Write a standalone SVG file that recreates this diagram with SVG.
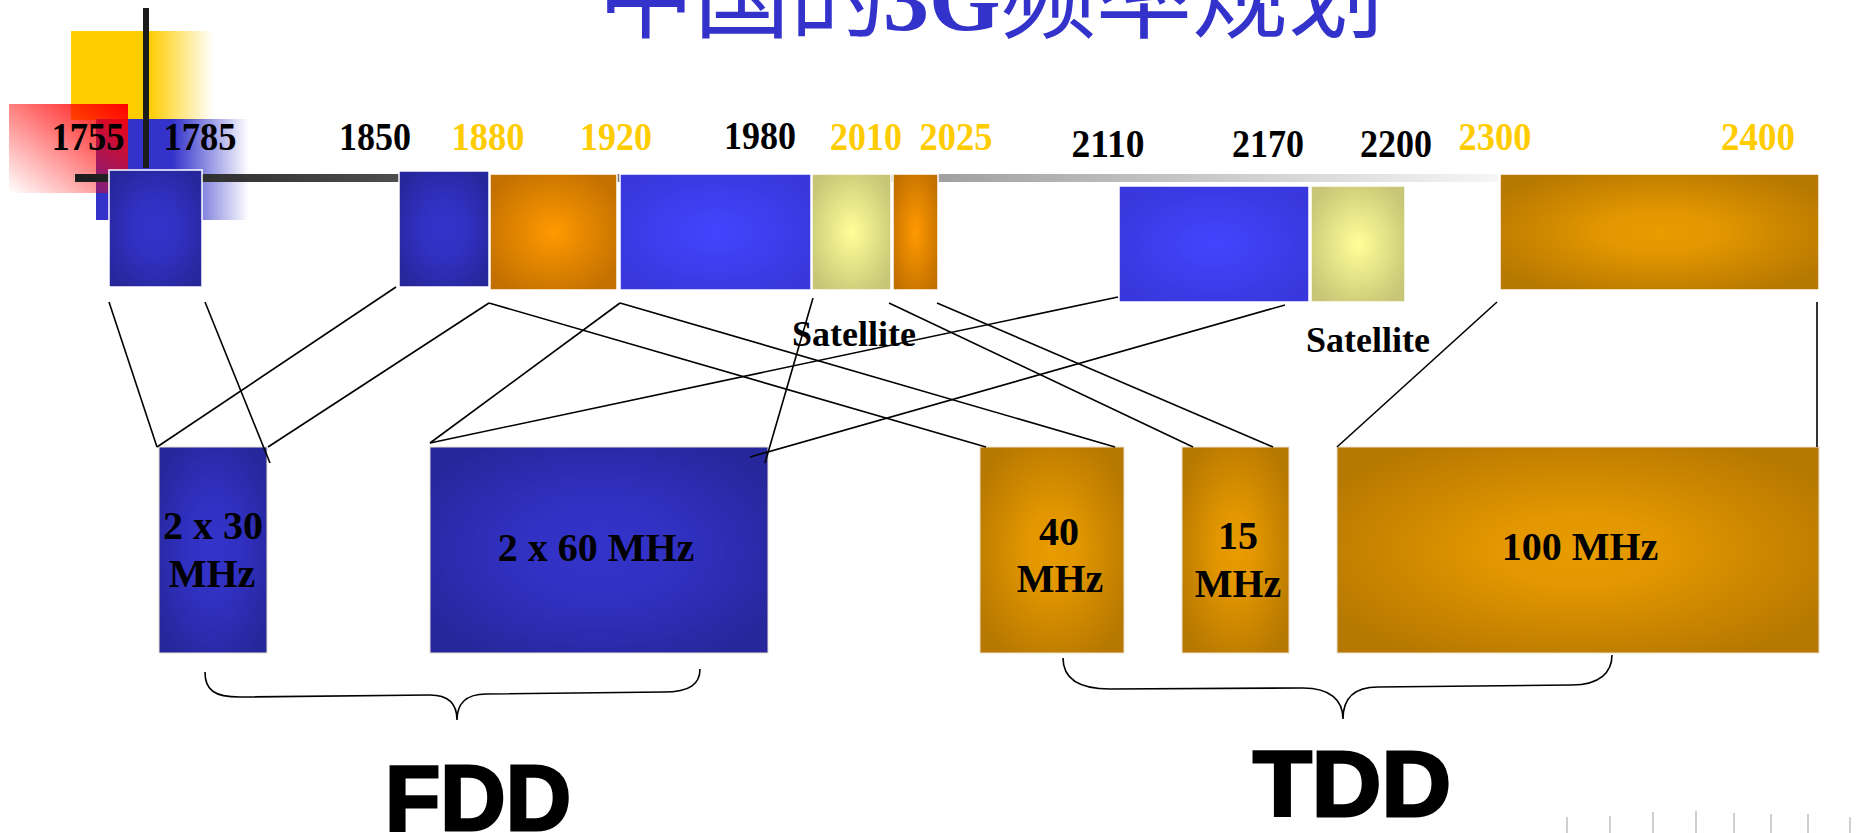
<svg xmlns="http://www.w3.org/2000/svg" width="1858" height="833" viewBox="0 0 1858 833">
<defs>
<radialGradient id="gDark" cx="50%" cy="50%" r="60%"><stop offset="0" stop-color="#3434cc"/><stop offset="0.45" stop-color="#3030c0"/><stop offset="1" stop-color="#27279c"/></radialGradient>
<radialGradient id="gBright" cx="50%" cy="50%" r="60%"><stop offset="0" stop-color="#4444ff"/><stop offset="1" stop-color="#3838dc"/></radialGradient>
<radialGradient id="gOrange" cx="50%" cy="50%" r="60%"><stop offset="0" stop-color="#ff9900"/><stop offset="1" stop-color="#c27000"/></radialGradient>
<radialGradient id="gGold" cx="50%" cy="50%" r="60%"><stop offset="0" stop-color="#e89c00"/><stop offset="0.3" stop-color="#e29600"/><stop offset="1" stop-color="#b67800"/></radialGradient>
<radialGradient id="gPale" cx="50%" cy="50%" r="60%"><stop offset="0" stop-color="#ffff99"/><stop offset="1" stop-color="#c6c676"/></radialGradient>
<linearGradient id="gYellow" x1="0" y1="0" x2="1" y2="0"><stop offset="0" stop-color="#ffcc00"/><stop offset="0.55" stop-color="#ffcc00"/><stop offset="1" stop-color="#ffcc00" stop-opacity="0"/></linearGradient>
<linearGradient id="gRed" x1="1" y1="0" x2="0" y2="1"><stop offset="0" stop-color="#ff0000"/><stop offset="1" stop-color="#ff0000" stop-opacity="0"/></linearGradient>
<linearGradient id="gBlueDeco" x1="0" y1="0" x2="1" y2="0"><stop offset="0" stop-color="#3333cc"/><stop offset="0.5" stop-color="#3333cc"/><stop offset="1" stop-color="#3333cc" stop-opacity="0"/></linearGradient>
<linearGradient id="gBar" gradientUnits="userSpaceOnUse" x1="75" y1="0" x2="1498" y2="0"><stop offset="0" stop-color="#1c1c1c"/><stop offset="1" stop-color="#f6f6f6"/></linearGradient>
<style>
.num{font-family:"Liberation Serif","Times New Roman",serif;font-weight:bold;font-size:40px;text-anchor:middle}
.blk{fill:#000}
.gld{fill:#ffcc00}
.lbl{font-family:"Liberation Serif","Times New Roman",serif;font-weight:bold;font-size:40px;text-anchor:middle;fill:#000}
.sat{font-family:"Liberation Serif","Times New Roman",serif;font-weight:bold;font-size:36px;fill:#000}
.box{stroke:#ffffff;stroke-width:1.5}
.lbox{stroke:#e8e0d0;stroke-width:1}
.big{font-family:"Liberation Sans",Arial,sans-serif;font-weight:900;font-size:92px;fill:#000;stroke:#000;stroke-width:3;text-anchor:middle}
.conn line,.conn path{stroke:#000;stroke-width:1.6;fill:none}
.tick{stroke:#cfcfcf;stroke-width:2}
</style>
</defs>
<rect width="1858" height="833" fill="#ffffff"/>

<g id="title">
<text y="30" font-size="96" fill="#3333cc" font-family="'Noto Sans CJK SC',sans-serif"><tspan x="598">中国的</tspan><tspan x="883" font-family="'Liberation Serif',serif" font-weight="bold" font-size="92">3G</tspan><tspan x="1000">频率规划</tspan></text>
</g>

<g id="decor">
<rect x="71" y="31" width="142" height="89" fill="url(#gYellow)"/>
<rect x="96" y="119" width="153" height="101" fill="url(#gBlueDeco)"/>
<rect x="9" y="104" width="119" height="89" fill="url(#gRed)"/>
<rect x="75" y="174" width="1423" height="8" fill="url(#gBar)"/>
<rect x="143" y="8" width="6" height="160" fill="#1c1c1c"/>
</g>

<g id="band-1755-1785"><rect class="box" x="109" y="170" width="93" height="117" fill="url(#gDark)"/></g>
<g id="band-1850-1880"><rect class="box" x="399" y="171" width="90" height="116" fill="url(#gDark)"/></g>
<g id="band-1880-1920"><rect class="box" x="490" y="174" width="127" height="116" fill="url(#gOrange)"/></g>
<g id="band-1920-1980"><rect class="box" x="620" y="174" width="191" height="116" fill="url(#gBright)"/></g>
<g id="band-1980-2010"><rect class="box" x="812" y="174" width="79" height="116" fill="url(#gPale)"/></g>
<g id="band-2010-2025"><rect class="box" x="893" y="174" width="45" height="116" fill="url(#gOrange)"/></g>
<g id="band-2110-2170"><rect class="box" x="1119" y="186" width="190" height="116" fill="url(#gBright)"/></g>
<g id="band-2170-2200"><rect class="box" x="1311" y="186" width="94" height="116" fill="url(#gPale)"/></g>
<g id="band-2300-2400"><rect class="box" x="1500" y="174" width="319" height="116" fill="url(#gGold)"/></g>

<g id="freq-labels">
<text class="num blk" x="88" y="150" textLength="73" lengthAdjust="spacingAndGlyphs">1755</text>
<text class="num blk" x="200" y="150" textLength="73" lengthAdjust="spacingAndGlyphs">1785</text>
<text class="num blk" x="375" y="150" textLength="72" lengthAdjust="spacingAndGlyphs">1850</text>
<text class="num gld" x="488" y="150" textLength="73" lengthAdjust="spacingAndGlyphs">1880</text>
<text class="num gld" x="616" y="150" textLength="72" lengthAdjust="spacingAndGlyphs">1920</text>
<text class="num blk" x="760" y="149" textLength="72" lengthAdjust="spacingAndGlyphs">1980</text>
<text class="num gld" x="866" y="150" textLength="72" lengthAdjust="spacingAndGlyphs">2010</text>
<text class="num gld" x="956" y="150" textLength="73" lengthAdjust="spacingAndGlyphs">2025</text>
<text class="num blk" x="1108" y="157" textLength="73" lengthAdjust="spacingAndGlyphs">2110</text>
<text class="num blk" x="1268" y="157" textLength="72" lengthAdjust="spacingAndGlyphs">2170</text>
<text class="num blk" x="1396" y="157" textLength="72" lengthAdjust="spacingAndGlyphs">2200</text>
<text class="num gld" x="1495" y="150" textLength="73" lengthAdjust="spacingAndGlyphs">2300</text>
<text class="num gld" x="1758" y="150" textLength="74" lengthAdjust="spacingAndGlyphs">2400</text>
</g>

<g id="satellite-1"><text class="sat" x="792" y="346">Satellite</text></g>
<g id="satellite-2"><text class="sat" x="1306" y="352">Satellite</text></g>

<g id="fdd-2x30"><rect class="lbox" x="159" y="447" width="108" height="206" fill="url(#gDark)"/><text class="lbl" x="213" y="539">2 x 30</text><text class="lbl" x="212" y="587">MHz</text></g>
<g id="fdd-2x60"><rect class="lbox" x="430" y="447" width="338" height="206" fill="url(#gDark)"/><text class="lbl" x="596" y="561">2 x 60 MHz</text></g>
<g id="tdd-40"><rect class="lbox" x="980" y="447" width="144" height="206" fill="url(#gGold)"/><text class="lbl" x="1059" y="545">40</text><text class="lbl" x="1060" y="592">MHz</text></g>
<g id="tdd-15"><rect class="lbox" x="1182" y="447" width="107" height="206" fill="url(#gGold)"/><text class="lbl" x="1238" y="549">15</text><text class="lbl" x="1238" y="597">MHz</text></g>
<g id="tdd-100"><rect class="lbox" x="1337" y="447" width="482" height="206" fill="url(#gGold)"/><text class="lbl" x="1580" y="560">100 MHz</text></g>

<g id="connectors" class="conn">
<line x1="109" y1="302" x2="157" y2="447"/>
<line x1="205" y1="302" x2="270" y2="463"/>
<line x1="396" y1="287" x2="157" y2="447"/>
<line x1="489" y1="303" x2="268" y2="447"/>
<line x1="489" y1="303" x2="986" y2="447"/>
<line x1="620" y1="303" x2="430" y2="443"/>
<line x1="620" y1="303" x2="1115" y2="447"/>
<line x1="813" y1="298" x2="765" y2="463"/>
<line x1="430" y1="443" x2="1118" y2="297"/>
<line x1="750" y1="457" x2="1285" y2="305"/>
<line x1="889" y1="303" x2="1193" y2="447"/>
<line x1="937" y1="303" x2="1273" y2="447"/>
<line x1="1497" y1="302" x2="1337" y2="447"/>
<line x1="1817" y1="302" x2="1817" y2="447"/>
<path d="M205,672 C205,690 214,697 240,697 L430,695 C450,695 457,705 457,720 C457,705 465,694 486,694 L664,692 C690,692 700,684 700,669"/>
<path d="M1063,658 C1063,678 1078,689 1110,689 L1303,688 C1330,688 1343,700 1343,719 C1343,700 1352,687 1378,687 L1572,685 C1600,685 1612,672 1612,655"/>
</g>

<g id="group-labels">
<text class="big" x="478" y="830" textLength="186" lengthAdjust="spacingAndGlyphs">FDD</text>
<text class="big" x="1352" y="816" textLength="198" lengthAdjust="spacingAndGlyphs">TDD</text>
</g>

<g id="ticks">
<line class="tick" x1="1567" y1="817" x2="1567" y2="833"/>
<line class="tick" x1="1610" y1="816" x2="1610" y2="833"/>
<line class="tick" x1="1653" y1="812" x2="1653" y2="833"/>
<line class="tick" x1="1696" y1="811" x2="1696" y2="833"/>
<line class="tick" x1="1734" y1="813" x2="1734" y2="833"/>
<line class="tick" x1="1771" y1="814" x2="1771" y2="833"/>
<line class="tick" x1="1808" y1="814" x2="1808" y2="833"/>
<line class="tick" x1="1850" y1="817" x2="1850" y2="833"/>
</g>
</svg>
